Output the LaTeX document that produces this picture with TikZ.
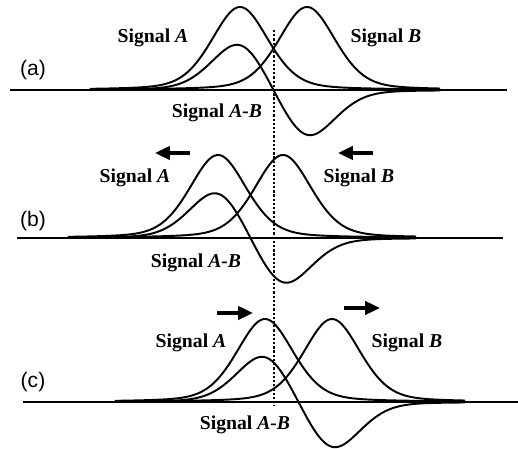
\documentclass[tikz,border=0pt]{standalone}
\usepackage{fontspec}
\setmainfont{Liberation Serif}
\newfontfamily\panelfont{Liberation Sans}
\usetikzlibrary{arrows.meta}
\tikzset{
  curve/.style={line width=1.1pt, line join=round},
  axisline/.style={line width=1.3pt},
  midline/.style={line width=1.2pt, dash pattern=on 1.3pt off 1.1pt},
  sigtext/.style={anchor=base, inner sep=0pt, font=\fontsize{11.2pt}{13pt}\selectfont\bfseries},
  paneltext/.style={inner sep=0pt, font=\fontsize{12pt}{14pt}\selectfont\panelfont},
  movearrow/.style={-{Triangle[length=8.5pt,width=7.5pt]}, line width=2.8pt},
  declare function={pv(\u)=0.7*exp(-min((\u/28.5)^2/2,9))+0.3/(1+(\u/33.5)^2);}
}

\begin{document}
\begin{tikzpicture}[x=0.02cm, y=-0.02cm]
  \useasboundingbox (0,0) rectangle (518,449);

  % baseline, peak A, peak B, axis ends, plot range
  \foreach \base/\pa/\pb/\xl/\xr/\ds/\de in {90/240/307/10/507/90/440,
                                          238/218/283/17/503/68/416,
                                          402/265/332/23/518/115/465}{
    \draw[axisline] (\xl,\base) -- (\xr,\base);
    \draw[curve] plot[domain=\ds:\de, samples=200] (\x,{\base-83*pv(\x-\pa)});
    \draw[curve] plot[domain=\ds:\de, samples=200] (\x,{\base-83*pv(\x-\pb)});
    \draw[curve] plot[domain=\ds:\de, samples=200] (\x,{\base-50*(pv(\x-\pa)-pv(\x-\pb))});
  }

  \coordinate (midtop) at (274,30);
  \coordinate (midbot) at (274,406);
  \draw[midline] (midtop) -- (midbot);

  % (a)
  \node[paneltext] (laba) at (33,70) {(a)};
  \node[sigtext] (siga) at (153,43) {Signal \textit{A}};
  \node[sigtext] (sigb) at (386,43) {Signal \textit{B}};
  \node[sigtext] (sigab) at (217,118) {Signal \textit{A-B}};

  % (b)
  \node[paneltext] (labb) at (33,221) {(b)};
  \node[sigtext] (sigA b) at (135,183) {Signal \textit{A}};
  \node[sigtext] (sigB b) at (359,183) {Signal \textit{B}};
  \node[sigtext] (sigAB b) at (196,268) {Signal \textit{A-B}};
  \coordinate (tailA b) at (190,153);
  \coordinate (headA b) at (155,153);
  \coordinate (tailB b) at (373,153);
  \coordinate (headB b) at (338,153);
  \draw[movearrow] (tailA b) -- (headA b);
  \draw[movearrow] (tailB b) -- (headB b);

  % (c)
  \node[paneltext] (labc) at (33,382) {(c)};
  \node[sigtext] (sigA c) at (191,348) {Signal \textit{A}};
  \node[sigtext] (sigB c) at (407,348) {Signal \textit{B}};
  \node[sigtext] (sigAB c) at (245,430) {Signal \textit{A-B}};
  \coordinate (tailA c) at (217,313);
  \coordinate (headA c) at (253,313);
  \coordinate (tailB c) at (344,308);
  \coordinate (headB c) at (380,308);
  \draw[movearrow] (tailA c) -- (headA c);
  \draw[movearrow] (tailB c) -- (headB c);
\end{tikzpicture}
\end{document}
